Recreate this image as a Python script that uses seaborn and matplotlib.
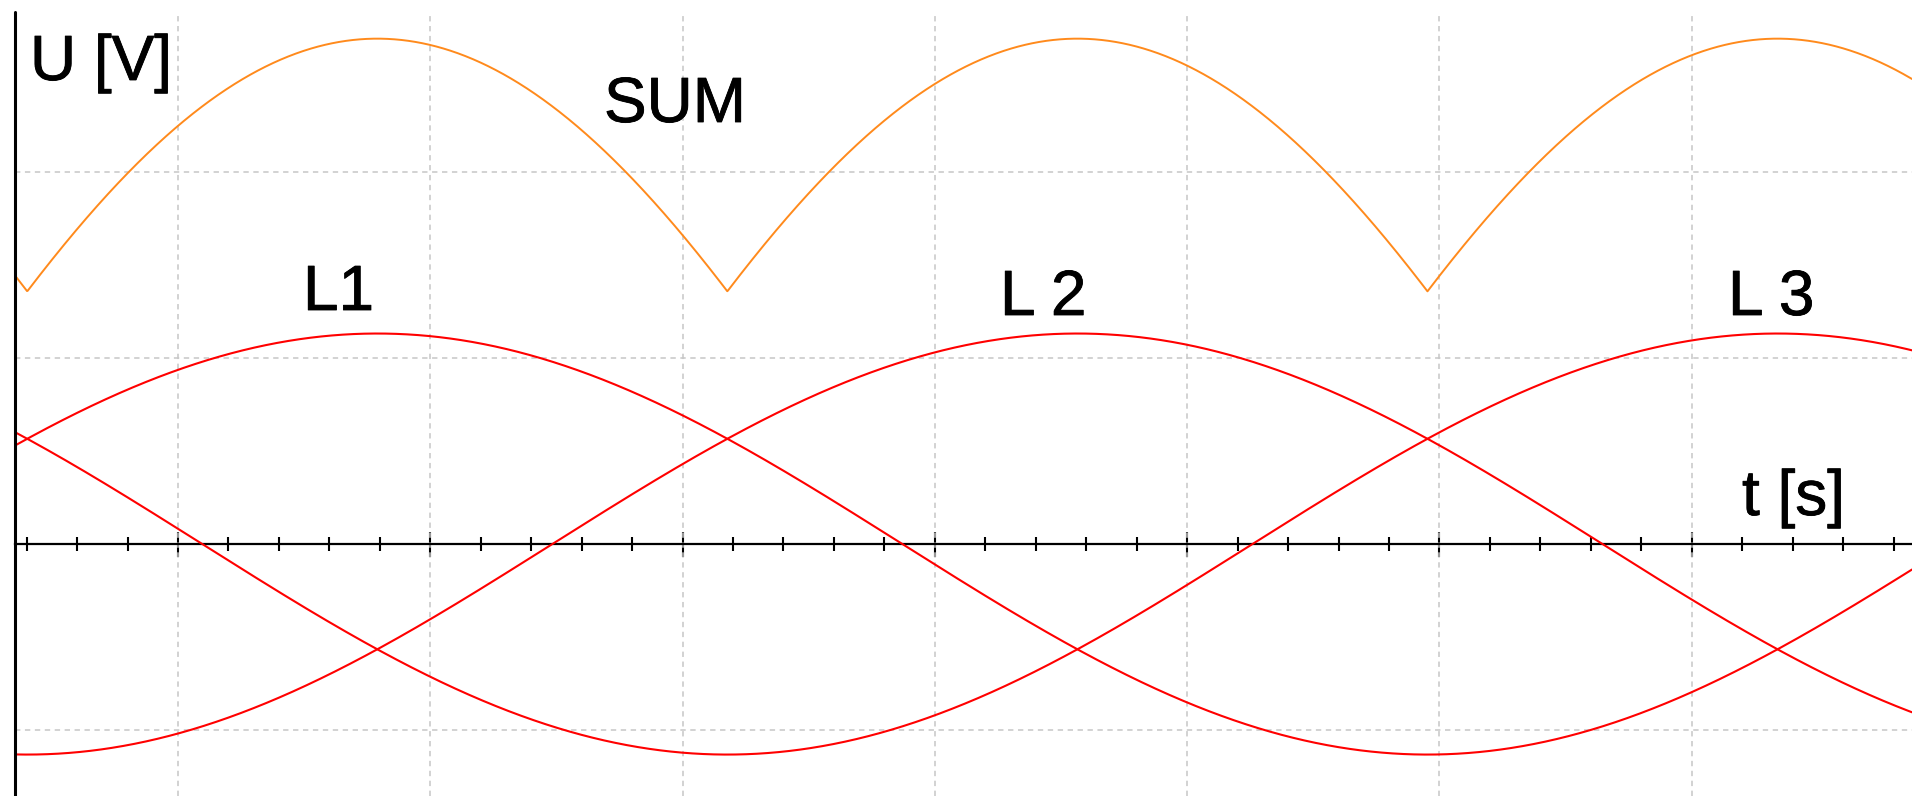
import numpy as np
import pandas as pd
import matplotlib
matplotlib.use("Agg")
import matplotlib.pyplot as plt
import matplotlib.patheffects as pe
import seaborn as sns

# Three-phase voltages and their rectified sum (time and voltage in grid divisions)
PHASES = ["L1", "L2", "L3"]
PEAK_TIMES = [0.79, 3.565, 6.34]      # time of each phase's positive peak
PERIOD = 8.325                         # period of one phase
AMPLITUDE = 1.133                      # phase peak voltage
SUM_PEAK = 2.72                        # peak of the rectified sum

PHASE_LABELS = ["L1", "L 2", "L 3"]
SUM_LABEL = "SUM"
Y_LABEL = "U [V]"
X_LABEL = "t [s]"

T_MIN, T_MAX = -0.7055, 6.873          # visible time window
U_MIN, U_MAX = -1.356, 2.928           # visible voltage window
T_AXIS = -0.646                        # where the vertical axis sits
MAJOR_T = np.arange(0, 7, 1.0)
MINOR_T = np.round(np.arange(-0.6, 6.81, 0.2), 3)
GRID_U = [-1.0, 0.0, 1.0, 2.0]

sns.set_theme(style="white")
plt.rcParams["font.family"] = ["Liberation Sans", "DejaVu Sans"]

t = np.linspace(T_AXIS, T_MAX, 3000)
frames = []
for name, tp in zip(PHASES, PEAK_TIMES):
    u = AMPLITUDE * np.cos(2 * np.pi * (t - tp) / PERIOD)
    frames.append(pd.DataFrame({"t": t, "u": u, "phase": name}))
phase_df = pd.concat(frames, ignore_index=True)

envelope = phase_df.pivot(index="t", columns="phase", values="u").max(axis=1)
sum_df = pd.DataFrame({"t": envelope.index, "u": SUM_PEAK * envelope.values / AMPLITUDE})

fig = plt.figure(figsize=(19.12, 7.96), dpi=100)
ax = fig.add_axes([0, 0, 1, 1])
ax.set_xlim(T_MIN, T_MAX)
ax.set_ylim(U_MIN, U_MAX)
for side in ["top", "right", "left", "bottom"]:
    ax.spines[side].set_visible(False)

# dashed background grid
grid_style = dict(color="#c6c6c6", linewidth=1.1, linestyle=(0, (3.5, 3.0)), zorder=1)
ax.vlines(MAJOR_T, U_MIN, U_MAX - 0.08, **grid_style)
ax.hlines(GRID_U, T_AXIS, T_MAX, **grid_style)

# curves
sns.lineplot(data=phase_df, x="t", y="u", hue="phase", palette=["#ff0000"] * 3,
             linewidth=1.5, legend=False, ax=ax, zorder=4, estimator=None, sort=False)
sns.lineplot(data=sum_df, x="t", y="u", color="#ff8a1c", linewidth=1.4,
             legend=False, ax=ax, zorder=4, estimator=None, sort=False)

# time axis with ticks through the zero line
ax.spines["bottom"].set_visible(True)
ax.spines["bottom"].set_position(("data", 0))
ax.spines["bottom"].set_bounds(T_AXIS, T_MAX)
ax.spines["bottom"].set_color("black")
ax.spines["bottom"].set_linewidth(1.6)
ax.spines["bottom"].set_zorder(3)
ax.set_xticks(MAJOR_T)
ax.set_xticks(MINOR_T, minor=True)
ax.set_yticks([])
ax.tick_params(axis="x", which="major", direction="inout", length=18, width=1.5,
               color="black", labelbottom=False, bottom=True)
ax.tick_params(axis="x", which="minor", direction="inout", length=10, width=1.5,
               color="black", bottom=True)
ax.set_xlabel("")
ax.set_ylabel("")

# voltage axis
ax.axvline(T_AXIS, ymin=0, ymax=0.985, color="black", linewidth=2.2, zorder=5)

# labels
text_style = dict(transform=ax.transAxes, fontsize=46, color="black",
                  ha="left", va="baseline", zorder=6,
                  path_effects=[pe.withStroke(linewidth=0.6, foreground="black")])
ax.text(30 / 1912, 1 - 80 / 796, Y_LABEL, **text_style)
ax.text(604 / 1912, 1 - 122 / 796, SUM_LABEL, **text_style)
ax.text(303 / 1912, 1 - 310 / 796, PHASE_LABELS[0], **text_style)
ax.text(1000 / 1912, 1 - 315 / 796, PHASE_LABELS[1], **text_style)
ax.text(1728 / 1912, 1 - 315 / 796, PHASE_LABELS[2], **text_style)
ax.text(1742 / 1912, 1 - 515 / 796, X_LABEL, **text_style)

fig.savefig("out.png", dpi=100, facecolor="white")
